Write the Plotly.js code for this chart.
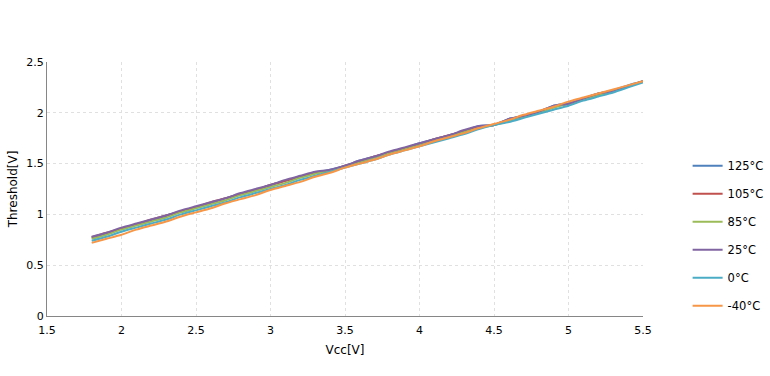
<!DOCTYPE html>
<html>
<head>
<meta charset="utf-8">
<script src="https://cdn.plot.ly/plotly-3.0.1.min.js"></script>
<style>html,body{margin:0;padding:0;background:#fff;}#chart{width:770px;height:376px;}</style>
</head>
<body>
<div id="chart"></div>
<script>
const vcc = [1.8,1.9,2.0,2.1,2.2,2.3,2.4,2.5,2.6,2.7,2.8,2.9,3.0,3.1,3.2,3.3,3.4,3.5,3.6,3.7,3.8,3.9,4.0,4.1,4.2,4.3,4.4,4.5,4.6,4.7,4.8,4.9,5.0,5.1,5.2,5.3,5.4,5.5];
const t125 = [0.77,0.81,0.86,0.90,0.94,0.99,1.03,1.07,1.11,1.16,1.20,1.24,1.29,1.33,1.37,1.41,1.44,1.48,1.53,1.57,1.61,1.65,1.70,1.74,1.78,1.82,1.87,1.88,1.94,1.97,2.01,2.07,2.09,2.14,2.19,2.22,2.27,2.31];
const t105 = [0.775,0.82,0.86,0.90,0.95,0.99,1.03,1.07,1.12,1.16,1.20,1.24,1.29,1.33,1.37,1.41,1.43,1.48,1.52,1.57,1.61,1.65,1.69,1.74,1.78,1.82,1.86,1.88,1.93,1.97,2.01,2.06,2.09,2.13,2.18,2.21,2.26,2.31];
const t85 = [0.76,0.80,0.85,0.89,0.93,0.97,1.02,1.06,1.10,1.14,1.19,1.23,1.27,1.31,1.36,1.40,1.43,1.47,1.51,1.56,1.60,1.64,1.68,1.73,1.77,1.81,1.85,1.88,1.92,1.96,2.00,2.05,2.09,2.13,2.17,2.21,2.26,2.31];
const t25 = [0.78,0.82,0.87,0.91,0.95,0.99,1.04,1.08,1.12,1.16,1.21,1.25,1.29,1.34,1.38,1.42,1.44,1.48,1.53,1.57,1.62,1.66,1.70,1.74,1.78,1.83,1.87,1.88,1.94,1.97,2.01,2.07,2.09,2.14,2.19,2.21,2.26,2.31];
const t0 = [0.74,0.78,0.83,0.87,0.91,0.95,1.00,1.04,1.08,1.12,1.17,1.21,1.25,1.29,1.34,1.38,1.42,1.46,1.50,1.54,1.59,1.63,1.67,1.71,1.75,1.79,1.84,1.88,1.91,1.95,1.99,2.03,2.07,2.12,2.16,2.20,2.25,2.30];
const tm40 = [0.72,0.76,0.80,0.85,0.89,0.93,0.98,1.02,1.06,1.11,1.15,1.19,1.24,1.28,1.32,1.37,1.41,1.46,1.50,1.54,1.59,1.63,1.67,1.72,1.76,1.80,1.85,1.89,1.93,1.98,2.02,2.06,2.11,2.15,2.19,2.23,2.27,2.31];
const names = ["125°C","105°C","85°C","25°C","0°C","-40°C"];
const series = [t125,t105,t85,t25,t0,tm40];
const colors = ["#4F81BD","#C0504D","#9BBB59","#8064A2","#4BACC6","#F79646"];
const xTicks = [1.5,2,2.5,3,3.5,4,4.5,5,5.5];
const yTicks = [0,0.5,1,1.5,2,2.5];

const fam = "DejaVu Sans, sans-serif";
const traces = series.map((s,i)=>({
  x: vcc, y: s, name: names[i], type:"scatter", mode:"lines",
  legendgroup: "g"+i,
  line:{color:colors[i], width:2, shape:"spline", smoothing:0.6}
}));
const layout = {
  width:770, height:376,
  margin:{l:47, r:127, t:62, b:60},
  paper_bgcolor:"#fff", plot_bgcolor:"#fff",
  font:{family:fam, size:11, color:"#000"},
  showlegend:true,
  legend:{xref:"container", yref:"container", x:0.893, xanchor:"left", y:0.373, yanchor:"middle",
    font:{family:fam, size:11.5}, tracegroupgap:9, itemwidth:30, bgcolor:"rgba(0,0,0,0)"},
  xaxis:{range:[1.5,5.5], tickvals:xTicks, ticktext:xTicks.map(String), showgrid:true, gridcolor:"#e0e0e0", griddash:"dot", showline:true, linecolor:"#868686", linewidth:1, zeroline:false,
    ticks:"outside", ticklen:4, tickcolor:"rgba(0,0,0,0)",
    title:{text:"Vcc[V]", font:{family:fam, size:12}, standoff:9}},
  yaxis:{range:[0,2.5], tickvals:yTicks, ticktext:yTicks.map(String), showgrid:true, gridcolor:"#e0e0e0", griddash:"dot", showline:true, linecolor:"#868686", linewidth:1, zeroline:false, ticks:"",
    title:{text:"Threshold[V]", font:{family:fam, size:12}, standoff:6}}
};
Plotly.newPlot("chart", traces, layout, {displayModeBar:false, staticPlot:true});
</script>
</body>
</html>
